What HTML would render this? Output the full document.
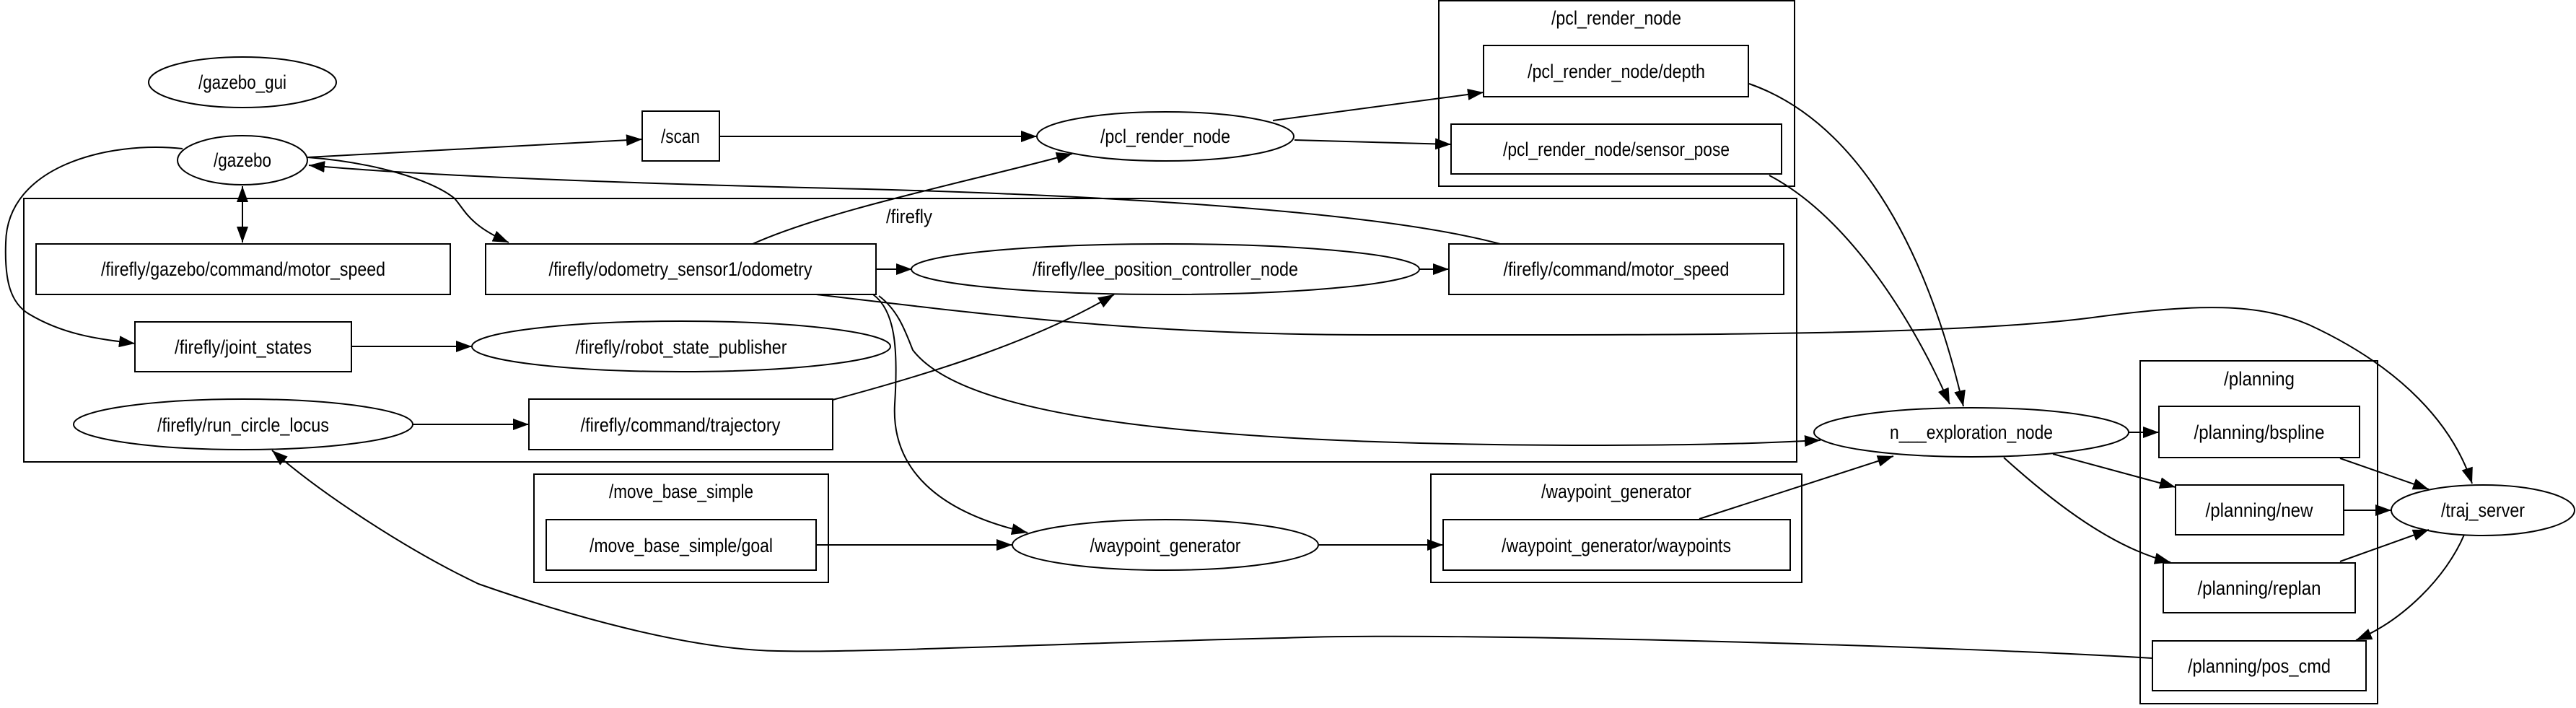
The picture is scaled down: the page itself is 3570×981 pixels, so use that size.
<!DOCTYPE html>
<html><head><meta charset="utf-8"><style>
html,body{margin:0;padding:0;background:#fff;}
svg text{font-family:"Liberation Sans",sans-serif;font-size:27px;fill:#000;text-anchor:middle;}
</style></head><body>
<svg width="3570" height="976" viewBox="0 0 3570 976" xmlns="http://www.w3.org/2000/svg">
<defs>
<marker id="a" markerUnits="userSpaceOnUse" markerWidth="24" markerHeight="18" refX="22" refY="8" orient="auto">
<path d="M0,0 L22,8 L0,16 Z" fill="#000"/>
</marker>
<marker id="s" markerUnits="userSpaceOnUse" markerWidth="24" markerHeight="18" refX="0" refY="8" orient="auto">
<path d="M22,0 L0,8 L22,16 Z" fill="#000"/>
</marker>
</defs>
<g fill="none" stroke="#000" stroke-width="2">
<!-- clusters -->
<rect x="33" y="275" width="2457" height="365"/>
<rect x="1994" y="1" width="493" height="257"/>
<rect x="740" y="657" width="408" height="150"/>
<rect x="1983" y="657" width="514" height="150"/>
<rect x="2966" y="500" width="329" height="475"/>
<!-- nodes -->
<ellipse cx="336" cy="114" rx="130" ry="35"/>
<ellipse cx="336" cy="222" rx="90" ry="34"/>
<rect x="890" y="154" width="107" height="69"/>
<rect x="50" y="338" width="574" height="70"/>
<rect x="673" y="338" width="541" height="70"/>
<rect x="187" y="446" width="300" height="69"/>
<ellipse cx="944" cy="480" rx="290" ry="35"/>
<ellipse cx="337" cy="588" rx="235" ry="35"/>
<rect x="733" y="553" width="421" height="70"/>
<rect x="757" y="720" width="374" height="70"/>
<ellipse cx="1615" cy="189" rx="178" ry="34"/>
<rect x="2056" y="63" width="367" height="71"/>
<rect x="2011" y="172" width="458" height="69"/>
<ellipse cx="1615" cy="373" rx="352" ry="35"/>
<rect x="2008" y="338" width="464" height="70"/>
<ellipse cx="1615" cy="755" rx="212" ry="35"/>
<rect x="2000" y="720" width="481" height="70"/>
<ellipse cx="2732" cy="599" rx="218" ry="34"/>
<rect x="2992" y="563" width="278" height="71"/>
<rect x="3015" y="672" width="233" height="69"/>
<rect x="2998" y="780" width="266" height="69"/>
<rect x="2983" y="888" width="296" height="69"/>
<ellipse cx="3441" cy="707" rx="127" ry="35"/>
</g>
<g fill="none" stroke="#000" stroke-width="2">
<path d="M426,218 L890,193" marker-end="url(#a)"/>
<path d="M997,189 L1437,189" marker-end="url(#a)"/>
<path d="M426,218 C520,225 600,250 630,275 C645,292 650,312 705,336" marker-end="url(#a)"/>
<path d="M336,258 L336,336" marker-start="url(#s)" marker-end="url(#a)"/>
<path d="M253,206 C150,195 10,230 8,336 C6,390 15,420 40,435 C90,465 140,470 187,476" marker-end="url(#a)"/>
<path d="M2079,338 C1900,290 1500,270 1200,262 C900,255 600,245 428,229" marker-end="url(#a)"/>
<path d="M1043,338 C1150,290 1350,250 1486,213" marker-end="url(#a)"/>
<path d="M1214,373 L1264,373" marker-end="url(#a)"/>
<path d="M1967,373 L2008,373" marker-end="url(#a)"/>
<path d="M487,480 L654,480" marker-end="url(#a)"/>
<path d="M572,588 L733,588" marker-end="url(#a)"/>
<path d="M1154,554 C1300,515 1440,470 1544,408" marker-end="url(#a)"/>
<path d="M1218,410 C1245,430 1255,460 1265,485 C1330,570 1600,616 2200,617 C2400,617 2480,612 2523,610" marker-end="url(#a)"/>
<path d="M1131,408 C1400,440 1600,464 1900,464 C2300,464 2700,466 2900,440 C3050,420 3130,420 3200,450 C3330,510 3400,590 3426,670" marker-end="url(#a)"/>
<path d="M1210,408 C1240,430 1245,480 1240,560 C1235,650 1300,710 1424,738" marker-end="url(#a)"/>
<path d="M1131,755 L1403,755" marker-end="url(#a)"/>
<path d="M1828,755 L2000,755" marker-end="url(#a)"/>
<path d="M2355,719 L2624,632" marker-end="url(#a)"/>
<path d="M1764,167 L2056,128" marker-end="url(#a)"/>
<path d="M1794,194 L2011,200" marker-end="url(#a)"/>
<path d="M2424,116 C2550,160 2660,300 2721,563" marker-end="url(#a)"/>
<path d="M2452,243 C2560,300 2650,440 2702,560" marker-end="url(#a)"/>
<path d="M2949,599 L2992,599" marker-end="url(#a)"/>
<path d="M2845,629 L3015,675" marker-end="url(#a)"/>
<path d="M2777,634 C2850,700 2930,760 3008,779" marker-end="url(#a)"/>
<path d="M3243,635 L3366,678" marker-end="url(#a)"/>
<path d="M3248,707 L3314,707" marker-end="url(#a)"/>
<path d="M3243,778 L3366,734" marker-end="url(#a)"/>
<path d="M3415,741 C3390,800 3330,860 3265,887" marker-end="url(#a)"/>
<path d="M2983,912 C2700,895 2000,875 1780,884 C1500,890 1200,905 1078,902 C950,900 780,850 663,809 C560,760 440,680 377,624" marker-end="url(#a)"/>
</g>
<g lengthAdjust="spacingAndGlyphs">
<text x="1260" y="309" textLength="64" lengthAdjust="spacingAndGlyphs">/firefly</text>
<text x="2240" y="34" textLength="180" lengthAdjust="spacingAndGlyphs">/pcl_render_node</text>
<text x="944" y="690" textLength="200" lengthAdjust="spacingAndGlyphs">/move_base_simple</text>
<text x="2240" y="690" textLength="208" lengthAdjust="spacingAndGlyphs">/waypoint_generator</text>
<text x="3131" y="534" textLength="98" lengthAdjust="spacingAndGlyphs">/planning</text>
<text x="336" y="123" textLength="122" lengthAdjust="spacingAndGlyphs">/gazebo_gui</text>
<text x="336" y="231" textLength="80" lengthAdjust="spacingAndGlyphs">/gazebo</text>
<text x="943" y="198" textLength="54" lengthAdjust="spacingAndGlyphs">/scan</text>
<text x="337" y="382" textLength="394" lengthAdjust="spacingAndGlyphs">/firefly/gazebo/command/motor_speed</text>
<text x="943" y="382" textLength="365" lengthAdjust="spacingAndGlyphs">/firefly/odometry_sensor1/odometry</text>
<text x="337" y="490" textLength="190" lengthAdjust="spacingAndGlyphs">/firefly/joint_states</text>
<text x="944" y="490" textLength="293" lengthAdjust="spacingAndGlyphs">/firefly/robot_state_publisher</text>
<text x="337" y="598" textLength="238" lengthAdjust="spacingAndGlyphs">/firefly/run_circle_locus</text>
<text x="943" y="598" textLength="277" lengthAdjust="spacingAndGlyphs">/firefly/command/trajectory</text>
<text x="944" y="765" textLength="254" lengthAdjust="spacingAndGlyphs">/move_base_simple/goal</text>
<text x="1615" y="198" textLength="180" lengthAdjust="spacingAndGlyphs">/pcl_render_node</text>
<text x="2240" y="108" textLength="246" lengthAdjust="spacingAndGlyphs">/pcl_render_node/depth</text>
<text x="2240" y="216" textLength="314" lengthAdjust="spacingAndGlyphs">/pcl_render_node/sensor_pose</text>
<text x="1615" y="382" textLength="368" lengthAdjust="spacingAndGlyphs">/firefly/lee_position_controller_node</text>
<text x="2240" y="382" textLength="313" lengthAdjust="spacingAndGlyphs">/firefly/command/motor_speed</text>
<text x="1615" y="765" textLength="209" lengthAdjust="spacingAndGlyphs">/waypoint_generator</text>
<text x="2240" y="765" textLength="318" lengthAdjust="spacingAndGlyphs">/waypoint_generator/waypoints</text>
<text x="2732" y="608" textLength="226" lengthAdjust="spacingAndGlyphs">n___exploration_node</text>
<text x="3131" y="608" textLength="181" lengthAdjust="spacingAndGlyphs">/planning/bspline</text>
<text x="3131" y="716" textLength="149" lengthAdjust="spacingAndGlyphs">/planning/new</text>
<text x="3131" y="824" textLength="171" lengthAdjust="spacingAndGlyphs">/planning/replan</text>
<text x="3131" y="932" textLength="198" lengthAdjust="spacingAndGlyphs">/planning/pos_cmd</text>
<text x="3441" y="716" textLength="116" lengthAdjust="spacingAndGlyphs">/traj_server</text>
</g>
</svg>
</body></html>
